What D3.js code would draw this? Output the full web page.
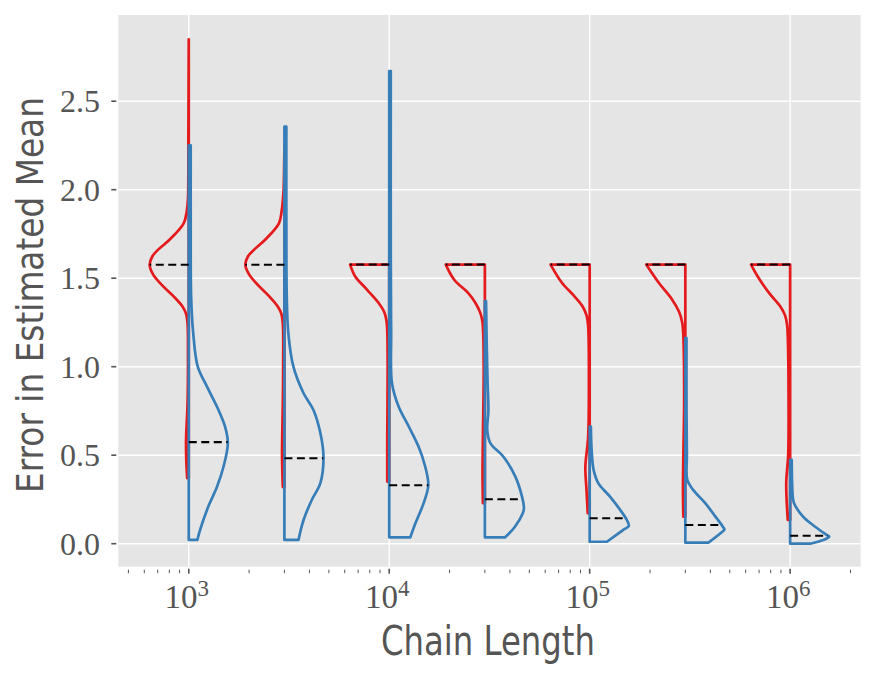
<!DOCTYPE html>
<html>
<head>
<meta charset="utf-8">
<script src="https://cdn.jsdelivr.net/npm/d3@7"></script>
<style>
  body { margin: 0; background: #fff; }
  svg { display: block; }
</style>
</head>
<body>
<div id="chart"></div>
<script>
// chain lengths (x positions of each split violin)
const chainLengths = [1e3, 3e3, 1e4, 3e4, 1e5, 3e5, 1e6];

// red half: [error value, relative half width], top to bottom
const redDensity = [
  [[2.85,0.0],[2.3,0.01],[1.95,0.02],[1.88,0.05],[1.81,0.13],[1.72,0.48],[1.66,0.79],[1.624,0.93],[1.576,1.0],[1.52,0.91],[1.455,0.66],[1.40,0.40],[1.34,0.16],[1.30,0.07],[1.24,0.03],[1.1,0.02],[0.8,0.03],[0.58,0.07],[0.45,0.06],[0.37,0.04]],
  [[2.25,0.0],[2.0,0.02],[1.94,0.04],[1.88,0.07],[1.81,0.14],[1.72,0.48],[1.66,0.78],[1.624,0.93],[1.576,1.0],[1.52,0.90],[1.455,0.65],[1.40,0.40],[1.34,0.17],[1.30,0.08],[1.24,0.04],[1.1,0.03],[0.8,0.04],[0.5,0.06],[0.32,0.04]],
  [[1.577,1.0],[1.51,0.87],[1.436,0.57],[1.36,0.27],[1.31,0.13],[1.26,0.07],[1.2,0.05],[1.0,0.04],[0.6,0.05],[0.351,0.05]],
  [[1.577,1.0],[1.49,0.78],[1.417,0.43],[1.36,0.24],[1.30,0.11],[1.25,0.06],[1.0,0.03],[0.6,0.05],[0.4,0.06],[0.229,0.05]],
  [[1.577,1.0],[1.474,0.71],[1.40,0.40],[1.34,0.18],[1.29,0.08],[1.23,0.04],[0.9,0.02],[0.6,0.04],[0.436,0.11],[0.3,0.08],[0.172,0.05]],
  [[1.577,1.0],[1.474,0.68],[1.38,0.34],[1.31,0.16],[1.25,0.08],[1.17,0.05],[0.8,0.03],[0.5,0.05],[0.3,0.06],[0.153,0.05]],
  [[1.577,1.0],[1.51,0.83],[1.417,0.54],[1.34,0.25],[1.29,0.13],[1.24,0.08],[1.17,0.06],[0.8,0.04],[0.5,0.05],[0.34,0.10],[0.134,0.06]]
];

// blue half: [error value, relative half width], top to bottom
const blueDensity = [
  [[2.25,0.05],[1.8,0.05],[1.4,0.06],[1.2,0.11],[1.0,0.23],[0.89,0.46],[0.775,0.72],[0.66,0.93],[0.568,1.0],[0.436,0.89],[0.32,0.72],[0.21,0.50],[0.078,0.29],[0.021,0.22]],
  [[2.356,0.05],[1.8,0.05],[1.4,0.06],[1.19,0.10],[1.0,0.23],[0.85,0.49],[0.757,0.74],[0.625,0.92],[0.49,1.0],[0.342,0.92],[0.247,0.70],[0.134,0.49],[0.021,0.36]],
  [[2.67,0.04],[1.6,0.04],[1.2,0.05],[0.908,0.07],[0.775,0.24],[0.662,0.50],[0.549,0.75],[0.436,0.92],[0.33,1.0],[0.229,0.88],[0.115,0.67],[0.036,0.54]],
  [[1.37,0.03],[1.1,0.05],[0.908,0.07],[0.75,0.09],[0.643,0.06],[0.568,0.14],[0.49,0.48],[0.379,0.78],[0.266,0.95],[0.2,1.0],[0.172,0.97],[0.096,0.77],[0.036,0.52]],
  [[0.662,0.03],[0.53,0.05],[0.417,0.10],[0.342,0.22],[0.266,0.52],[0.191,0.78],[0.134,0.95],[0.10,1.0],[0.078,0.86],[0.011,0.44]],
  [[1.162,0.03],[0.8,0.03],[0.5,0.04],[0.36,0.05],[0.304,0.20],[0.229,0.51],[0.153,0.77],[0.096,0.96],[0.08,1.0],[0.059,0.90],[0.006,0.59]],
  [[0.474,0.04],[0.342,0.05],[0.26,0.07],[0.229,0.10],[0.153,0.33],[0.096,0.64],[0.049,0.94],[0.04,1.0],[0.021,0.85],[0.0,0.51]]
];

// medians (dashed lines)
const redMedians = [1.576, 1.576, 1.577, 1.577, 1.577, 1.577, 1.577];
const blueMedians = [0.574, 0.483, 0.33, 0.251, 0.144, 0.106, 0.045];

// ticks
const yTicks = [0, 0.5, 1.0, 1.5, 2.0, 2.5];
const yTickLabels = ["0.0", "0.5", "1.0", "1.5", "2.0", "2.5"];
const xExponents = [3, 4, 5, 6];

const W = 875, H = 675;
const plotL = 118.3, plotR = 860.6, plotT = 15, plotB = 566.7;
const halfWidth = 0.195; // in decades

const svg = d3.select("#chart").append("svg")
  .attr("width", W).attr("height", H);

const x = d3.scaleLog()
  .domain([Math.pow(10, 2.6485), Math.pow(10, 6.3515)])
  .range([plotL, plotR]);
const y = d3.scaleLinear()
  .domain([-0.130, 2.987])
  .range([plotB, plotT]);

// background
svg.append("rect")
  .attr("x", plotL).attr("y", plotT)
  .attr("width", plotR - plotL).attr("height", plotB - plotT)
  .attr("fill", "#e5e5e5");

// grid
svg.selectAll(".hgrid").data(yTicks).enter()
  .append("line")
    .attr("class", "hgrid")
    .attr("x1", plotL).attr("x2", plotR)
    .attr("y1", d => y(d)).attr("y2", d => y(d))
    .attr("stroke", "#fff").attr("stroke-width", 1.4);

svg.selectAll(".vgrid").data(xExponents).enter()
  .append("line")
    .attr("class", "vgrid")
    .attr("x1", d => x(Math.pow(10, d))).attr("x2", d => x(Math.pow(10, d)))
    .attr("y1", plotT).attr("y2", plotB)
    .attr("stroke", "#fff").attr("stroke-width", 1.4);

// y axis ticks + labels
svg.selectAll(".ytick").data(yTicks).enter()
  .append("line")
    .attr("class", "ytick")
    .attr("x1", plotL - 7).attr("x2", plotL - 2)
    .attr("y1", d => y(d)).attr("y2", d => y(d))
    .attr("stroke", "#555").attr("stroke-width", 1.6);

svg.selectAll(".ylabel").data(yTicks).enter()
  .append("text")
    .attr("class", "ylabel")
    .attr("x", 100).attr("y", d => y(d) + 11)
    .attr("text-anchor", "end")
    .attr("font-family", "Liberation Serif, DejaVu Serif, serif")
    .attr("font-size", 32)
    .attr("fill", "#555")
    .text((d, i) => yTickLabels[i]);

// x axis ticks (major + minor)
let minor = [];
for (let e = 2; e <= 6; e++) {
  for (let m = 2; m <= 9; m++) {
    let v = m * Math.pow(10, e);
    if (x(v) >= plotL && x(v) <= plotR) minor.push(v);
  }
}
svg.selectAll(".xminor").data(minor).enter()
  .append("line")
    .attr("class", "xminor")
    .attr("x1", d => x(d)).attr("x2", d => x(d))
    .attr("y1", plotB + 3).attr("y2", plotB + 6.5)
    .attr("stroke", "#555").attr("stroke-width", 1);

svg.selectAll(".xmajor").data(xExponents).enter()
  .append("line")
    .attr("class", "xmajor")
    .attr("x1", d => x(Math.pow(10, d))).attr("x2", d => x(Math.pow(10, d)))
    .attr("y1", plotB + 2).attr("y2", plotB + 7)
    .attr("stroke", "#555").attr("stroke-width", 1.6);

let xl = svg.selectAll(".xlabel").data(xExponents).enter()
  .append("text")
    .attr("class", "xlabel")
    .attr("x", d => x(Math.pow(10, d)) - 2)
    .attr("y", 608)
    .attr("text-anchor", "middle")
    .attr("font-family", "Liberation Serif, DejaVu Serif, serif")
    .attr("font-size", 33)
    .attr("fill", "#555");
xl.append("tspan").text("10");
xl.append("tspan")
  .attr("font-size", 23)
  .attr("dy", -12)
  .text(d => d);

// axis titles
svg.append("text")
  .attr("x", 488).attr("y", 655)
  .attr("text-anchor", "middle")
  .attr("font-family", "DejaVu Sans, sans-serif")
  .attr("font-size", 40)
  .attr("textLength", 214)
  .attr("lengthAdjust", "spacingAndGlyphs")
  .attr("fill", "#555")
  .text("Chain Length");

svg.append("text")
  .attr("transform", "translate(43,295) rotate(-90)")
  .attr("text-anchor", "middle")
  .attr("font-family", "DejaVu Sans, sans-serif")
  .attr("font-size", 38)
  .attr("textLength", 396)
  .attr("lengthAdjust", "spacingAndGlyphs")
  .attr("fill", "#555")
  .text("Error in Estimated Mean");

// violins
function edgeX(pos, frac, side) {
  return x(pos * Math.pow(10, side * frac * halfWidth));
}

function halfPath(pos, prof, side) {
  let curve = d3.line()
    .x(d => edgeX(pos, d[1], side))
    .y(d => y(d[0]))
    .curve(d3.curveCatmullRom.alpha(0.5));
  let cx = x(pos);
  let yTop = y(prof[0][0]);
  let yBot = y(prof[prof.length - 1][0]);
  return "M" + cx + "," + yTop + curve(prof).replace(/^M/, "L") + "L" + cx + "," + yBot + "Z";
}

function widthAt(prof, v) {
  for (let i = 0; i < prof.length - 1; i++) {
    let a = prof[i], b = prof[i + 1];
    if (v <= a[0] && v >= b[0]) {
      let t = (a[0] - v) / (a[0] - b[0]);
      return a[1] + t * (b[1] - a[1]);
    }
  }
  return 0;
}

let groups = svg.selectAll(".violin").data(chainLengths).enter()
  .append("g")
    .attr("class", "violin");

groups.append("path")
  .attr("d", (d, i) => halfPath(d, redDensity[i], -1))
  .attr("fill", "none")
  .attr("stroke", "#e41a1c")
  .attr("stroke-width", 2.7)
  .attr("stroke-linejoin", "round");

groups.append("path")
  .attr("d", (d, i) => halfPath(d, blueDensity[i], 1))
  .attr("fill", "none")
  .attr("stroke", "#377eb8")
  .attr("stroke-width", 2.7)
  .attr("stroke-linejoin", "round");

groups.append("line")
  .attr("x1", d => x(d))
  .attr("x2", (d, i) => edgeX(d, widthAt(redDensity[i], redMedians[i]), -1))
  .attr("y1", (d, i) => y(redMedians[i]))
  .attr("y2", (d, i) => y(redMedians[i]))
  .attr("stroke", "#000")
  .attr("stroke-width", 2.1)
  .attr("stroke-dasharray", "8,4.5");

groups.append("line")
  .attr("x1", d => x(d))
  .attr("x2", (d, i) => edgeX(d, widthAt(blueDensity[i], blueMedians[i]), 1))
  .attr("y1", (d, i) => y(blueMedians[i]))
  .attr("y2", (d, i) => y(blueMedians[i]))
  .attr("stroke", "#000")
  .attr("stroke-width", 2.1)
  .attr("stroke-dasharray", "8,4.5");
</script>
</body>
</html>
